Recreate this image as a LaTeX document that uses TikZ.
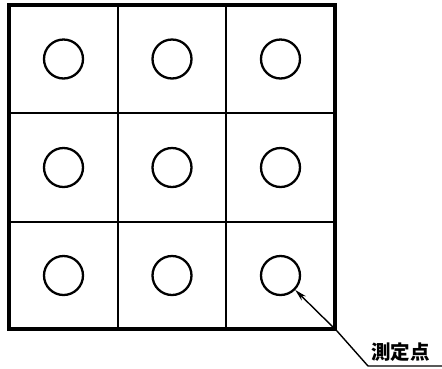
\documentclass[tikz,border=0pt]{standalone}
\usepackage{fontspec}
\newfontfamily\cjk{Noto Sans CJK JP}
\usetikzlibrary{arrows.meta}
\tikzset{
  gridline/.style={line width=2.8pt},
  spot/.style={circle,draw,line width=2.3pt,minimum size=39pt,inner sep=0pt},
  leader/.style={line width=1.4pt,-{Stealth[length=12pt,width=6pt]}},
}
\begin{document}
\begin{tikzpicture}[x=1pt,y=-1pt]
  \useasboundingbox (0,0) rectangle (442,368);
  % grid
  \draw[gridline,line width=3.2pt] (9,5) rectangle (335,329);
  \foreach \x in {118,226} \draw[gridline] (\x,5) -- (\x,329);
  \foreach \y in {113,222} \draw[gridline] (9,\y) -- (335,\y);
  % measuring points
  \foreach \x/\i in {63.5/1,172/2,280.5/3}
    \foreach \y/\j in {59/1,167.5/2,275.5/3}
      \node[spot] (p\j\i) at (\x,\y) {};
  % label
  \coordinate (corner) at (337,331);
  \coordinate (bend) at (368,366);
  \coordinate (lineend) at (442,366);
  \node[font=\cjk\bfseries\fontsize{19.5}{22}\selectfont,anchor=south west,inner sep=0pt] (lbl) at (371,362) {測定点};
  \draw[leader] (lineend) -- (bend) -- (corner) -- (p33);
\end{tikzpicture}
\end{document}
